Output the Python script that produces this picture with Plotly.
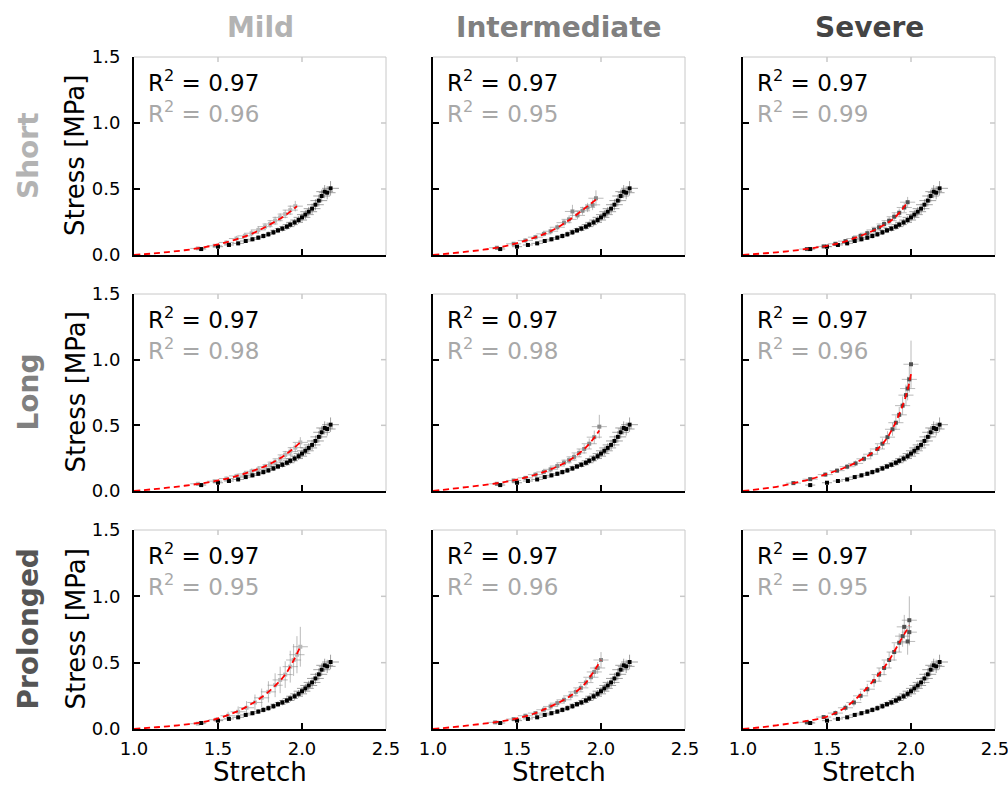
import plotly.graph_objects as go

# ---------------- data ----------------
col_names = ["Mild", "Intermediate", "Severe"]
row_names = ["Short", "Long", "Prolonged"]
x_ticks = [1.0, 1.5, 2.0, 2.5]
x_tick_text = ["1.0", "1.5", "2.0", "2.5"]
y_ticks = [0.0, 0.5, 1.0, 1.5]
y_tick_text = ["0.0", "0.5", "1.0", "1.5"]

r2_black = [0.97, 0.97, 0.97, 0.97, 0.97, 0.97, 0.97, 0.97, 0.97]
r2_gray = [0.96, 0.95, 0.99, 0.98, 0.98, 0.96, 0.95, 0.96, 0.95]

# reference (black) series, identical in every panel
black_s = [1.40, 1.50, 1.565, 1.62, 1.665, 1.705, 1.74, 1.77, 1.80, 1.83, 1.857, 1.883, 1.91,
           1.93, 1.956, 1.98, 2.00, 2.02, 2.04, 2.06, 2.08, 2.10, 2.117, 2.135, 2.15, 2.17]
black_t = [0.045, 0.063, 0.076, 0.088, 0.106, 0.119, 0.131, 0.144, 0.157, 0.172, 0.187, 0.200, 0.215,
           0.230, 0.247, 0.265, 0.285, 0.306, 0.328, 0.351, 0.381, 0.412, 0.447, 0.480, 0.472, 0.505]
black_ey = [0.010, 0.012, 0.012, 0.014, 0.015, 0.016, 0.017, 0.018, 0.019, 0.020, 0.021, 0.022, 0.024,
            0.025, 0.027, 0.029, 0.031, 0.034, 0.036, 0.039, 0.042, 0.045, 0.048, 0.050, 0.050, 0.055]
black_ex = [0.030, 0.030, 0.030, 0.035, 0.035, 0.035, 0.040, 0.040, 0.040, 0.040, 0.045, 0.045, 0.045,
            0.045, 0.050, 0.050, 0.050, 0.050, 0.050, 0.050, 0.050, 0.050, 0.050, 0.050, 0.050, 0.050]

# Short / Mild
sm_s = [1.38, 1.48, 1.55, 1.61, 1.66, 1.70, 1.74, 1.78, 1.81, 1.84, 1.87, 1.90, 1.93, 1.96]
sm_t = [0.05, 0.07, 0.095, 0.125, 0.145, 0.165, 0.19, 0.215, 0.235, 0.26, 0.285, 0.31, 0.34, 0.37]
sm_ey = [0.01, 0.012, 0.015, 0.02, 0.02, 0.022, 0.025, 0.025, 0.028, 0.03, 0.03, 0.032, 0.035, 0.04]
sm_fit_s = [1.0, 1.1, 1.2, 1.3, 1.4, 1.5, 1.6, 1.7, 1.8, 1.9, 1.97]
sm_fit_t = [0.0, 0.01, 0.022, 0.036, 0.055, 0.08, 0.115, 0.16, 0.225, 0.30, 0.37]

# Short / Intermediate
si_s = [1.38, 1.48, 1.55, 1.61, 1.66, 1.70, 1.74, 1.78, 1.81, 1.83, 1.86, 1.89, 1.92, 1.95, 1.97]
si_t = [0.055, 0.085, 0.11, 0.135, 0.16, 0.18, 0.21, 0.245, 0.27, 0.33, 0.30, 0.335, 0.36, 0.38, 0.43]
si_ey = [0.01, 0.012, 0.015, 0.018, 0.02, 0.02, 0.022, 0.025, 0.03, 0.05, 0.03, 0.03, 0.035, 0.04, 0.06]
si_fit_s = [1.0, 1.1, 1.2, 1.3, 1.4, 1.5, 1.6, 1.7, 1.8, 1.9, 1.97]
si_fit_t = [0.0, 0.012, 0.025, 0.04, 0.06, 0.09, 0.13, 0.18, 0.255, 0.35, 0.42]

# Short / Severe
ss_s = [1.38, 1.48, 1.55, 1.61, 1.66, 1.70, 1.74, 1.78, 1.81, 1.84, 1.87, 1.90, 1.93, 1.96, 1.98]
ss_t = [0.045, 0.065, 0.085, 0.105, 0.125, 0.145, 0.165, 0.19, 0.21, 0.235, 0.26, 0.29, 0.32, 0.36, 0.40]
ss_ey = [0.01, 0.012, 0.014, 0.016, 0.018, 0.02, 0.02, 0.022, 0.024, 0.026, 0.028, 0.03, 0.032, 0.035, 0.04]
ss_fit_s = [1.0, 1.1, 1.2, 1.3, 1.4, 1.5, 1.6, 1.7, 1.8, 1.9, 1.98]
ss_fit_t = [0.0, 0.01, 0.02, 0.033, 0.05, 0.07, 0.10, 0.145, 0.20, 0.28, 0.40]

# Long / Mild
lm_s = [1.38, 1.48, 1.55, 1.61, 1.66, 1.70, 1.74, 1.78, 1.81, 1.84, 1.87, 1.90, 1.93, 1.96, 1.99]
lm_t = [0.055, 0.075, 0.095, 0.115, 0.13, 0.15, 0.165, 0.185, 0.20, 0.22, 0.245, 0.275, 0.30, 0.33, 0.37]
lm_ey = [0.01, 0.012, 0.014, 0.016, 0.018, 0.02, 0.02, 0.022, 0.024, 0.026, 0.028, 0.03, 0.032, 0.035, 0.04]
lm_fit_s = [1.0, 1.1, 1.2, 1.3, 1.4, 1.5, 1.6, 1.7, 1.8, 1.9, 1.99]
lm_fit_t = [0.0, 0.012, 0.025, 0.04, 0.058, 0.08, 0.11, 0.15, 0.20, 0.275, 0.37]

# Long / Intermediate
li_s = [1.38, 1.48, 1.55, 1.61, 1.66, 1.70, 1.74, 1.78, 1.81, 1.84, 1.87, 1.90, 1.93, 1.96, 1.99]
li_t = [0.055, 0.08, 0.10, 0.125, 0.145, 0.165, 0.19, 0.215, 0.235, 0.26, 0.29, 0.32, 0.36, 0.41, 0.49]
li_ey = [0.01, 0.012, 0.014, 0.016, 0.018, 0.02, 0.022, 0.024, 0.026, 0.028, 0.03, 0.035, 0.04, 0.05, 0.09]
li_fit_s = [1.0, 1.1, 1.2, 1.3, 1.4, 1.5, 1.6, 1.7, 1.8, 1.9, 1.95, 1.99]
li_fit_t = [0.0, 0.015, 0.03, 0.045, 0.063, 0.087, 0.12, 0.165, 0.225, 0.32, 0.39, 0.46]

# Long / Severe
ls_s = [1.30, 1.40, 1.49, 1.56, 1.62, 1.67, 1.72, 1.76, 1.80, 1.83, 1.86, 1.89, 1.91, 1.93, 1.95,
        1.97, 1.98, 1.99, 2.00]
ls_t = [0.06, 0.09, 0.125, 0.155, 0.185, 0.21, 0.245, 0.28, 0.32, 0.36, 0.41, 0.47, 0.52, 0.58, 0.65,
        0.73, 0.78, 0.85, 0.965]
ls_ey = [0.01, 0.012, 0.015, 0.018, 0.02, 0.022, 0.025, 0.03, 0.035, 0.04, 0.045, 0.05, 0.055, 0.06,
         0.07, 0.08, 0.09, 0.1, 0.18]
ls_fit_s = [1.0, 1.1, 1.2, 1.3, 1.4, 1.5, 1.6, 1.7, 1.8, 1.85, 1.9, 1.95, 1.98, 2.0]
ls_fit_t = [0.0, 0.015, 0.032, 0.06, 0.09, 0.13, 0.175, 0.235, 0.32, 0.39, 0.50, 0.65, 0.77, 0.89]

# Prolonged / Mild
pm_s = [1.38, 1.49, 1.56, 1.62, 1.67, 1.72, 1.76, 1.80, 1.84, 1.87, 1.90, 1.93, 1.95, 1.97, 1.99]
pm_t = [0.04, 0.07, 0.10, 0.13, 0.16, 0.20, 0.235, 0.28, 0.33, 0.37, 0.41, 0.47, 0.52, 0.56, 0.62]
pm_ey = [0.01, 0.02, 0.03, 0.04, 0.05, 0.06, 0.07, 0.08, 0.09, 0.10, 0.10, 0.12, 0.12, 0.14, 0.15]
pm_fit_s = [1.0, 1.1, 1.2, 1.3, 1.4, 1.5, 1.6, 1.7, 1.8, 1.9, 1.99]
pm_fit_t = [0.0, 0.01, 0.02, 0.033, 0.05, 0.08, 0.125, 0.19, 0.28, 0.41, 0.62]

# Prolonged / Intermediate
pi_s = [1.37, 1.48, 1.55, 1.61, 1.66, 1.70, 1.74, 1.78, 1.82, 1.85, 1.88, 1.91, 1.94, 1.96, 1.98, 2.00]
pi_t = [0.05, 0.075, 0.10, 0.12, 0.145, 0.17, 0.195, 0.22, 0.25, 0.28, 0.31, 0.35, 0.39, 0.43, 0.46, 0.52]
pi_ey = [0.01, 0.012, 0.014, 0.016, 0.018, 0.02, 0.022, 0.024, 0.026, 0.028, 0.03, 0.032, 0.035, 0.04,
         0.045, 0.06]
pi_fit_s = [1.0, 1.1, 1.2, 1.3, 1.4, 1.5, 1.6, 1.7, 1.8, 1.9, 1.95, 2.0]
pi_fit_t = [0.0, 0.012, 0.025, 0.04, 0.057, 0.08, 0.115, 0.17, 0.235, 0.335, 0.42, 0.52]

# Prolonged / Severe
ps_s = [1.38, 1.48, 1.55, 1.61, 1.66, 1.70, 1.74, 1.78, 1.81, 1.84, 1.87, 1.90, 1.93, 1.95, 1.96,
        1.98, 1.99, 1.99]
ps_t = [0.05, 0.09, 0.12, 0.16, 0.20, 0.25, 0.30, 0.36, 0.41, 0.46, 0.52, 0.58, 0.65, 0.70, 0.77,
        0.66, 0.82, 0.73]
ps_ey = [0.01, 0.015, 0.02, 0.025, 0.03, 0.035, 0.04, 0.045, 0.05, 0.055, 0.06, 0.065, 0.07, 0.08,
         0.09, 0.1, 0.18, 0.1]
ps_fit_s = [1.0, 1.1, 1.2, 1.3, 1.4, 1.5, 1.6, 1.7, 1.8, 1.86, 1.93, 1.99]
ps_fit_t = [0.0, 0.012, 0.028, 0.045, 0.065, 0.094, 0.155, 0.26, 0.40, 0.50, 0.65, 0.78]

gray_ex = 0.045

panels = [
    (sm_s, sm_t, sm_ey, sm_fit_s, sm_fit_t),
    (si_s, si_t, si_ey, si_fit_s, si_fit_t),
    (ss_s, ss_t, ss_ey, ss_fit_s, ss_fit_t),
    (lm_s, lm_t, lm_ey, lm_fit_s, lm_fit_t),
    (li_s, li_t, li_ey, li_fit_s, li_fit_t),
    (ls_s, ls_t, ls_ey, ls_fit_s, ls_fit_t),
    (pm_s, pm_t, pm_ey, pm_fit_s, pm_fit_t),
    (pi_s, pi_t, pi_ey, pi_fit_s, pi_fit_t),
    (ps_s, ps_t, ps_ey, ps_fit_s, ps_fit_t),
]

# ---------------- styling / layout ----------------
W, H = 1008, 786
FONT = "DejaVu Sans"
col_px = [(134, 386), (433, 685), (743, 995)]
row_px = [(57, 255), (294, 491), (530, 729)]
col_colors = ["#b3b3b3", "#808080", "#444444"]
row_colors = ["#b3b3b3", "#808080", "#555555"]
marker_colors = ["#b8b8b8", "#8a8a8a", "#505050"]

fig = go.Figure()
layout = dict(width=W, height=H, autosize=False, margin=dict(l=0, r=0, t=0, b=0, pad=0),
              paper_bgcolor="white", plot_bgcolor="white", showlegend=False,
              font=dict(family=FONT, color="black"))
shapes = []
annotations = []

for r in range(3):
    for c in range(3):
        i = r * 3 + c + 1
        sfx = "" if i == 1 else str(i)
        xa, ya = "x" + sfx, "y" + sfx
        gs, gt, gey, fs, ft = panels[i - 1]

        fig.add_trace(go.Scatter(
            x=gs, y=gt, xaxis=xa, yaxis=ya, mode="markers",
            marker=dict(symbol="square", size=4, color=marker_colors[c]),
            error_y=dict(type="data", array=gey, color="rgba(140,140,140,0.6)", thickness=1, width=0),
            error_x=dict(type="constant", value=gray_ex, color="rgba(140,140,140,0.6)", thickness=1, width=0),
        ))
        fig.add_trace(go.Scatter(
            x=black_s, y=black_t, xaxis=xa, yaxis=ya, mode="markers",
            marker=dict(symbol="square", size=4, color="black"),
            error_y=dict(type="data", array=black_ey, color="rgba(70,70,70,0.5)", thickness=1, width=0),
            error_x=dict(type="data", array=black_ex, color="rgba(70,70,70,0.5)", thickness=1, width=0),
        ))
        fig.add_trace(go.Scatter(
            x=fs, y=ft, xaxis=xa, yaxis=ya, mode="lines",
            line=dict(color="#ff0000", width=1.8, dash="6px,4px", shape="spline"),
        ))

        x0, x1 = col_px[c]
        y0, y1 = row_px[r]
        layout["xaxis" + sfx] = dict(
            domain=[x0 / W, x1 / W], anchor=ya, range=[1.0, 2.5], automargin=False,
            tickvals=x_ticks, ticktext=x_tick_text, showticklabels=(r == 2),
            ticklabeloverflow="allow", ticklabelstandoff=2,
            ticks="inside", ticklen=6, tickwidth=2, tickcolor="black",
            showline=True, linewidth=2, linecolor="black",
            showgrid=False, zeroline=False, tickfont=dict(size=18, family=FONT, color="black"),
        )
        layout["yaxis" + sfx] = dict(
            domain=[1 - y1 / H, 1 - y0 / H], anchor=xa, range=[0.0, 1.5], automargin=False,
            tickvals=y_ticks, ticktext=y_tick_text, showticklabels=(c == 0),
            ticklabeloverflow="allow", ticklabelstandoff=8,
            ticks="inside", ticklen=6, tickwidth=2, tickcolor="black",
            showline=True, linewidth=2, linecolor="black",
            showgrid=False, zeroline=False, tickfont=dict(size=18, family=FONT, color="black"),
        )
        # light grey top/right frame
        shapes.append(dict(type="line", xref=xa + " domain", yref=ya + " domain",
                           x0=0, x1=1, y0=1, y1=1, line=dict(color="#c8c8c8", width=1), layer="below"))
        shapes.append(dict(type="line", xref=xa + " domain", yref=ya + " domain",
                           x0=1, x1=1, y0=0, y1=1, line=dict(color="#c8c8c8", width=1), layer="below"))
        for tv in x_ticks[1:3]:
            shapes.append(dict(type="line", xref=xa, yref=ya + " domain", x0=tv, x1=tv,
                               y0=1, y1=1 - 5 / 198, line=dict(color="#c8c8c8", width=1.5)))
        for tv in y_ticks[1:3]:
            shapes.append(dict(type="line", xref=xa + " domain", yref=ya, x0=1, x1=1 - 5 / 252,
                               y0=tv, y1=tv, line=dict(color="#c8c8c8", width=1.5)))

        # R^2 labels
        annotations.append(dict(x=(x0 + 12) / W, y=1 - (y0 + 24) / H, xref="paper", yref="paper",
                                xanchor="left", yanchor="middle", showarrow=False,
                                text=f"R<sup>2</sup> = {r2_black[i-1]:.2f}",
                                font=dict(size=23, family=FONT, color="black")))
        annotations.append(dict(x=(x0 + 12) / W, y=1 - (y0 + 55) / H, xref="paper", yref="paper",
                                xanchor="left", yanchor="middle", showarrow=False,
                                text=f"R<sup>2</sup> = {r2_gray[i-1]:.2f}",
                                font=dict(size=23, family=FONT, color="#a8a8a8")))

# column titles
for c in range(3):
    x0, x1 = col_px[c]
    annotations.append(dict(x=(x0 + x1) / 2 / W, y=1 - 27 / H, xref="paper", yref="paper",
                            xanchor="center", yanchor="middle", showarrow=False,
                            text=f"<b>{col_names[c]}</b>",
                            font=dict(size=28, family=FONT, color=col_colors[c])))
    annotations.append(dict(x=(x0 + x1) / 2 / W, y=1 - 772 / H, xref="paper", yref="paper",
                            xanchor="center", yanchor="middle", showarrow=False,
                            text="Stretch", font=dict(size=26, family=FONT, color="black")))

# row labels and y titles
for r in range(3):
    y0, y1 = row_px[r]
    yc = (y0 + y1) / 2
    annotations.append(dict(x=28 / W, y=1 - yc / H, xref="paper", yref="paper",
                            xanchor="center", yanchor="middle", showarrow=False, textangle=-90,
                            text=f"<b>{row_names[r]}</b>",
                            font=dict(size=28, family=FONT, color=row_colors[r])))
    annotations.append(dict(x=75 / W, y=1 - yc / H, xref="paper", yref="paper",
                            xanchor="center", yanchor="middle", showarrow=False, textangle=-90,
                            text="Stress [MPa]", font=dict(size=26, family=FONT, color="black")))

layout["shapes"] = shapes
layout["annotations"] = annotations
fig.update_layout(**layout)
fig.write_html("out.html")
